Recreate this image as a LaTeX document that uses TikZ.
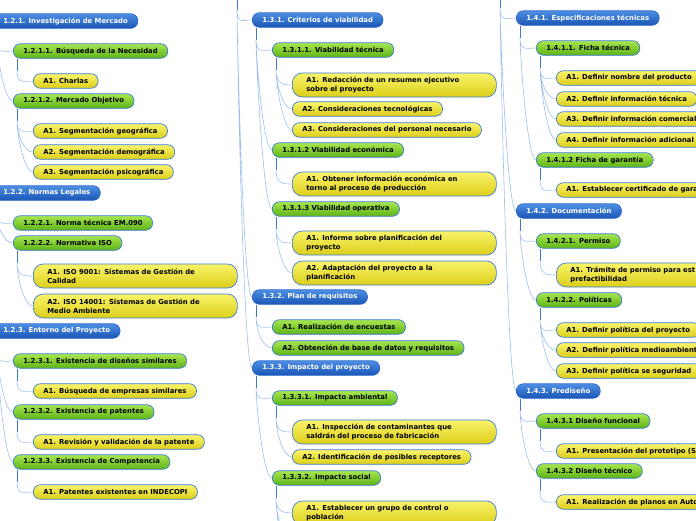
\documentclass[tikz,border=0pt]{standalone}
\usepackage{fontspec}
\setmainfont{DejaVu Sans}
\definecolor{topicTop}{HTML}{4D8FE3}
\definecolor{topicBot}{HTML}{1A55B5}
\definecolor{topicEdge}{HTML}{2B6AD0}
\definecolor{subTop}{HTML}{A8E650}
\definecolor{subBot}{HTML}{5DB317}
\definecolor{taskTop}{HTML}{F9F46A}
\definecolor{taskBot}{HTML}{DCCE1A}
\definecolor{edgeBlue}{HTML}{3A7BDA}
\definecolor{linkc}{HTML}{9DBEEE}
\definecolor{stubc}{HTML}{3C78D8}

\begin{document}
\begin{tikzpicture}[x=1pt, y=-1pt,
  box/.style={rounded corners=7pt, anchor=west, inner xsep=10pt, inner ysep=2pt, minimum height=14.5pt, draw=edgeBlue, line width=0.7pt, font=\bfseries\fontsize{6.85}{9}\selectfont},
  topic/.style={box, top color=topicTop, bottom color=topicBot, text=white, draw=topicEdge},
  sub/.style={box, top color=subTop, bottom color=subBot},
  task/.style={box, top color=taskTop, bottom color=taskBot},
  long/.style={text width=176pt, inner xsep=14pt, minimum height=24pt, rounded corners=10pt, align=left},
  cut/.style={text width=170pt, align=left},
  link/.style={draw=linkc, line width=0.6pt, out=-90, in=180, out distance=14pt, in distance=9pt},
  stub/.style={draw=stubc, line width=0.9pt}]
	\useasboundingbox (0,0) rectangle (696,520);

	% 1.2 column
	\node[topic] (r121) at (-7,21) {1.2.1. Investigación de Mercado};
	\node[sub] (n1211) at (13,51) {1.2.1.1. Búsqueda de la Necesidad};
	\node[task] (a1211) at (33,81) {A1. Charlas};
	\node[sub] (n1212) at (13,101) {1.2.1.2. Mercado Objetivo};
	\node[task] (a1212a) at (33,131) {A1. Segmentación geográfica};
	\node[task] (a1212b) at (33,152) {A2. Segmentación demográfica};
	\node[task] (a1212c) at (33,172) {A3. Segmentación psicográfica};

	\node[topic] (r122) at (-7,193) {1.2.2. Normas Legales};
	\node[sub] (n1221) at (13,223) {1.2.2.1. Norma técnica EM.090};
	\node[sub] (n1222) at (13,243) {1.2.2.2. Normativa ISO};
	\node[task, long] (a1222a) at (33,276) {A1. ISO 9001: Sistemas de Gestión de\\Calidad};
	\node[task, long] (a1222b) at (33,306) {A2. ISO 14001: Sistemas de Gestión de\\Medio Ambiente};

	\node[topic] (r123) at (-7,331) {1.2.3. Entorno del Proyecto};
	\node[sub] (n1231) at (13,361) {1.2.3.1. Existencia de diseños similares};
	\node[task] (a1231) at (33,391) {A1. Búsqueda de empresas similares};
	\node[sub] (n1232) at (13,412) {1.2.3.2. Existencia de patentes};
	\node[task] (a1232) at (33,442) {A1. Revisión y validación de la patente};
	\node[sub] (n1233) at (13,462) {1.2.3.3. Existencia de Competencia};
	\node[task] (a1233) at (33,492) {A1. Patentes existentes en INDECOPI};

	% 1.3 column
	\node[topic] (r131) at (252,20) {1.3.1. Criterios de viabilidad};
	\node[sub] (n1311) at (272,50) {1.3.1.1. Viabilidad técnica};
	\node[task, long] (a1311a) at (292,85) {A1. Redacción de un resumen ejecutivo\\sobre el proyecto};
	\node[task] (a1311b) at (292,109) {A2. Consideraciones tecnológicas};
	\node[task] (a1311c) at (292,130) {A3. Consideraciones del personal necesario};
	\node[sub] (n1312) at (272,150) {1.3.1.2 Viabilidad económica};
	\node[task, long] (a1312) at (292,184) {A1. Obtener información económica en\\torno al proceso de producción};
	\node[sub] (n1313) at (272,209) {1.3.1.3 Viabilidad operativa};
	\node[task, long] (a1313a) at (292,243) {A1. Informe sobre planificación del\\proyecto};
	\node[task, long] (a1313b) at (292,273) {A2. Adaptación del proyecto a la\\planificación};

	\node[topic] (r132) at (252,297) {1.3.2. Plan de requisitos};
	\node[sub] (g1321) at (272,327) {A1. Realización de encuestas};
	\node[sub] (g1322) at (272,348) {A2. Obtención de base de datos y requisitos};

	\node[topic] (r133) at (252,368) {1.3.3. Impacto del proyecto};
	\node[sub] (n1331) at (272,398) {1.3.3.1. Impacto ambiental};
	\node[task, long] (a1331a) at (292,432) {A1. Inspección de contaminantes que\\saldrán del proceso de fabricación};
	\node[task] (a1331b) at (292,457) {A2. Identificación de posibles receptores};
	\node[sub] (n1332) at (272,478) {1.3.3.2. Impacto social};
	\node[task, long] (a1332a) at (292,513) {A1. Establecer un grupo de control o\\población};

	% 1.4 column
	\node[topic] (r141) at (516,18) {1.4.1. Especificaciones técnicas};
	\node[sub] (n1411) at (536,48) {1.4.1.1. Ficha técnica};
	\node[task] (a1411a) at (556,78) {A1. Definir nombre del producto};
	\node[task] (a1411b) at (556,99) {A2. Definir información técnica};
	\node[task, cut] (a1411c) at (556,119) {A3. Definir información comercial};
	\node[task] (a1411d) at (556,140) {A4. Definir información adicional};
	\node[sub] (n1412) at (536,160) {1.4.1.2 Ficha de garantía};
	\node[task, cut] (a1412) at (556,190) {A1. Establecer certificado de gara};

	\node[topic] (r142) at (516,211) {1.4.2. Documentación};
	\node[sub] (n1421) at (536,241) {1.4.2.1. Permiso};
	\node[task, long] (a1421) at (556,275) {A1. Trámite de permiso para est\\prefactibilidad};
	\node[sub] (n1422) at (536,300) {1.4.2.2. Políticas};
	\node[task] (a1422a) at (556,330) {A1. Definir política del proyecto};
	\node[task, cut] (a1422b) at (556,350) {A2. Definir política medioambient};
	\node[task] (a1422c) at (556,371) {A3. Definir política se seguridad};

	\node[topic] (r143) at (516,391) {1.4.3. Prediseño};
	\node[sub] (n1431) at (536,421) {1.4.3.1 Diseño funcional};
	\node[task, cut] (a1431) at (556,451) {A1. Presentación del prototipo (S};
	\node[sub] (n1432) at (536,471) {1.4.3.2 Diseño técnico};
	\node[task, cut] (a1432) at (556,502) {A1. Realización de planos en Auto};

	% Parents above the page
	\coordinate (p13) at (237,-5);
	\coordinate (j13) at (237,10);
	\coordinate (p14) at (500,-5);
	\coordinate (j14) at (500,8);
	\coordinate (more1) at (292,545);
	\coordinate (more2) at (292,570);

	% Stubs
	\draw[stub] (p13) -- (j13);
	\draw[stub] (p14) -- (j14);
	\draw[stub] ([xshift=4pt]r121.south west) -- ++(0,12) coordinate (j121);
	\draw[stub] ([xshift=4pt]n1211.south west) -- ++(0,12) coordinate (j1211);
	\draw[stub] ([xshift=4pt]n1212.south west) -- ++(0,12) coordinate (j1212);
	\draw[stub] ([xshift=4pt]r122.south west) -- ++(0,12) coordinate (j122);
	\draw[stub] ([xshift=4pt]n1222.south west) -- ++(0,12) coordinate (j1222);
	\draw[stub] ([xshift=4pt]r123.south west) -- ++(0,12) coordinate (j123);
	\draw[stub] ([xshift=4pt]n1231.south west) -- ++(0,12) coordinate (j1231);
	\draw[stub] ([xshift=4pt]n1232.south west) -- ++(0,12) coordinate (j1232);
	\draw[stub] ([xshift=4pt]n1233.south west) -- ++(0,12) coordinate (j1233);
	\draw[stub] ([xshift=4pt]r131.south west) -- ++(0,12) coordinate (j131);
	\draw[stub] ([xshift=4pt]n1311.south west) -- ++(0,12) coordinate (j1311);
	\draw[stub] ([xshift=4pt]n1312.south west) -- ++(0,12) coordinate (j1312);
	\draw[stub] ([xshift=4pt]n1313.south west) -- ++(0,12) coordinate (j1313);
	\draw[stub] ([xshift=4pt]r132.south west) -- ++(0,12) coordinate (j132);
	\draw[stub] ([xshift=4pt]r133.south west) -- ++(0,12) coordinate (j133);
	\draw[stub] ([xshift=4pt]n1331.south west) -- ++(0,12) coordinate (j1331);
	\draw[stub] ([xshift=4pt]n1332.south west) -- ++(0,12) coordinate (j1332);
	\draw[stub] ([xshift=4pt]r141.south west) -- ++(0,12) coordinate (j141);
	\draw[stub] ([xshift=4pt]n1411.south west) -- ++(0,12) coordinate (j1411);
	\draw[stub] ([xshift=4pt]n1412.south west) -- ++(0,12) coordinate (j1412);
	\draw[stub] ([xshift=4pt]r142.south west) -- ++(0,12) coordinate (j142);
	\draw[stub] ([xshift=4pt]n1421.south west) -- ++(0,12) coordinate (j1421);
	\draw[stub] ([xshift=4pt]n1422.south west) -- ++(0,12) coordinate (j1422);
	\draw[stub] ([xshift=4pt]r143.south west) -- ++(0,12) coordinate (j143);
	\draw[stub] ([xshift=4pt]n1431.south west) -- ++(0,12) coordinate (j1431);
	\draw[stub] ([xshift=4pt]n1432.south west) -- ++(0,12) coordinate (j1432);

	% Links
	\draw[link] (j121) to (n1211.west) (j121) to (n1212.west);
	\draw[link] (j1211) to (a1211.west);
	\draw[link] (j1212) to (a1212a.west) (j1212) to (a1212b.west) (j1212) to (a1212c.west);
	\draw[link] (j122) to (n1221.west) (j122) to (n1222.west);
	\draw[link] (j1222) to (a1222a.west) (j1222) to (a1222b.west);
	\draw[link] (j123) to (n1231.west) (j123) to (n1232.west) (j123) to (n1233.west);
	\draw[link] (j1231) to (a1231.west);
	\draw[link] (j1232) to (a1232.west);
	\draw[link] (j1233) to (a1233.west);

	\draw[link] (j13) to (r131.west) (j13) to (r132.west) (j13) to (r133.west);
	\draw[link] (j131) to (n1311.west) (j131) to (n1312.west) (j131) to (n1313.west);
	\draw[link] (j1311) to (a1311a.west) (j1311) to (a1311b.west) (j1311) to (a1311c.west);
	\draw[link] (j1312) to (a1312.west);
	\draw[link] (j1313) to (a1313a.west) (j1313) to (a1313b.west);
	\draw[link] (j132) to (g1321.west) (j132) to (g1322.west);
	\draw[link] (j133) to (n1331.west) (j133) to (n1332.west);
	\draw[link] (j1331) to (a1331a.west) (j1331) to (a1331b.west);
	\draw[link] (j1332) to (a1332a.west) (j1332) to (more1) (j1332) to (more2);

	\draw[link] (j14) to (r141.west) (j14) to (r142.west) (j14) to (r143.west);
	\draw[link] (j141) to (n1411.west) (j141) to (n1412.west);
	\draw[link] (j1411) to (a1411a.west) (j1411) to (a1411b.west) (j1411) to (a1411c.west) (j1411) to (a1411d.west);
	\draw[link] (j1412) to (a1412.west);
	\draw[link] (j142) to (n1421.west) (j142) to (n1422.west);
	\draw[link] (j1421) to (a1421.west);
	\draw[link] (j1422) to (a1422a.west) (j1422) to (a1422b.west) (j1422) to (a1422c.west);
	\draw[link] (j143) to (n1431.west) (j143) to (n1432.west);
	\draw[link] (j1431) to (a1431.west);
	\draw[link] (j1432) to (a1432.west);
\end{tikzpicture}
\end{document}
